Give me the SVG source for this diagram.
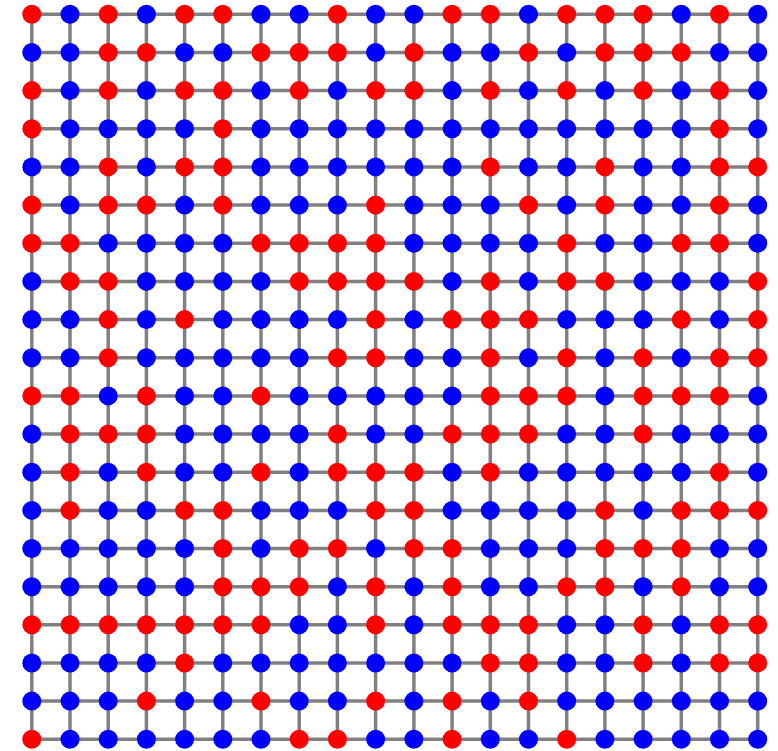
<svg xmlns="http://www.w3.org/2000/svg" width="778" height="751" viewBox="0 0 778 751">
<style>
.e line{stroke:#808080;stroke-width:3.5;fill:none}
circle{stroke:none}
.r{fill:#ff0000}
.b{fill:#0000ff}
</style>
<rect width="778" height="751" fill="#ffffff"/>
<g id="connectors" class="e">
<line x1="31.8" y1="14.3" x2="757.7" y2="14.3"/>
<line x1="31.8" y1="52.5" x2="757.7" y2="52.5"/>
<line x1="31.8" y1="90.6" x2="757.7" y2="90.6"/>
<line x1="31.8" y1="128.8" x2="757.7" y2="128.8"/>
<line x1="31.8" y1="166.9" x2="757.7" y2="166.9"/>
<line x1="31.8" y1="205.1" x2="757.7" y2="205.1"/>
<line x1="31.8" y1="243.2" x2="757.7" y2="243.2"/>
<line x1="31.8" y1="281.4" x2="757.7" y2="281.4"/>
<line x1="31.8" y1="319.6" x2="757.7" y2="319.6"/>
<line x1="31.8" y1="357.7" x2="757.7" y2="357.7"/>
<line x1="31.8" y1="395.9" x2="757.7" y2="395.9"/>
<line x1="31.8" y1="434" x2="757.7" y2="434"/>
<line x1="31.8" y1="472.2" x2="757.7" y2="472.2"/>
<line x1="31.8" y1="510.4" x2="757.7" y2="510.4"/>
<line x1="31.8" y1="548.5" x2="757.7" y2="548.5"/>
<line x1="31.8" y1="586.7" x2="757.7" y2="586.7"/>
<line x1="31.8" y1="624.8" x2="757.7" y2="624.8"/>
<line x1="31.8" y1="663" x2="757.7" y2="663"/>
<line x1="31.8" y1="701.1" x2="757.7" y2="701.1"/>
<line x1="31.8" y1="739.3" x2="757.7" y2="739.3"/>
<line x1="31.8" y1="14.3" x2="31.8" y2="739.3"/>
<line x1="70" y1="14.3" x2="70" y2="739.3"/>
<line x1="108.2" y1="14.3" x2="108.2" y2="739.3"/>
<line x1="146.4" y1="14.3" x2="146.4" y2="739.3"/>
<line x1="184.6" y1="14.3" x2="184.6" y2="739.3"/>
<line x1="222.8" y1="14.3" x2="222.8" y2="739.3"/>
<line x1="261" y1="14.3" x2="261" y2="739.3"/>
<line x1="299.2" y1="14.3" x2="299.2" y2="739.3"/>
<line x1="337.4" y1="14.3" x2="337.4" y2="739.3"/>
<line x1="375.6" y1="14.3" x2="375.6" y2="739.3"/>
<line x1="413.9" y1="14.3" x2="413.9" y2="739.3"/>
<line x1="452.1" y1="14.3" x2="452.1" y2="739.3"/>
<line x1="490.3" y1="14.3" x2="490.3" y2="739.3"/>
<line x1="528.5" y1="14.3" x2="528.5" y2="739.3"/>
<line x1="566.7" y1="14.3" x2="566.7" y2="739.3"/>
<line x1="604.9" y1="14.3" x2="604.9" y2="739.3"/>
<line x1="643.1" y1="14.3" x2="643.1" y2="739.3"/>
<line x1="681.3" y1="14.3" x2="681.3" y2="739.3"/>
<line x1="719.5" y1="14.3" x2="719.5" y2="739.3"/>
<line x1="757.7" y1="14.3" x2="757.7" y2="739.3"/>
</g>
<g id="nodes">
<g id="n0_0"><circle class="r" cx="31.8" cy="14.3" r="9.5"/></g>
<g id="n0_1"><circle class="b" cx="70" cy="14.3" r="9.5"/></g>
<g id="n0_2"><circle class="r" cx="108.2" cy="14.3" r="9.5"/></g>
<g id="n0_3"><circle class="b" cx="146.4" cy="14.3" r="9.5"/></g>
<g id="n0_4"><circle class="r" cx="184.6" cy="14.3" r="9.5"/></g>
<g id="n0_5"><circle class="r" cx="222.8" cy="14.3" r="9.5"/></g>
<g id="n0_6"><circle class="b" cx="261" cy="14.3" r="9.5"/></g>
<g id="n0_7"><circle class="b" cx="299.2" cy="14.3" r="9.5"/></g>
<g id="n0_8"><circle class="r" cx="337.4" cy="14.3" r="9.5"/></g>
<g id="n0_9"><circle class="b" cx="375.6" cy="14.3" r="9.5"/></g>
<g id="n0_10"><circle class="b" cx="413.9" cy="14.3" r="9.5"/></g>
<g id="n0_11"><circle class="r" cx="452.1" cy="14.3" r="9.5"/></g>
<g id="n0_12"><circle class="r" cx="490.3" cy="14.3" r="9.5"/></g>
<g id="n0_13"><circle class="b" cx="528.5" cy="14.3" r="9.5"/></g>
<g id="n0_14"><circle class="r" cx="566.7" cy="14.3" r="9.5"/></g>
<g id="n0_15"><circle class="r" cx="604.9" cy="14.3" r="9.5"/></g>
<g id="n0_16"><circle class="r" cx="643.1" cy="14.3" r="9.5"/></g>
<g id="n0_17"><circle class="b" cx="681.3" cy="14.3" r="9.5"/></g>
<g id="n0_18"><circle class="r" cx="719.5" cy="14.3" r="9.5"/></g>
<g id="n0_19"><circle class="b" cx="757.7" cy="14.3" r="9.5"/></g>
<g id="n1_0"><circle class="b" cx="31.8" cy="52.5" r="9.5"/></g>
<g id="n1_1"><circle class="b" cx="70" cy="52.5" r="9.5"/></g>
<g id="n1_2"><circle class="r" cx="108.2" cy="52.5" r="9.5"/></g>
<g id="n1_3"><circle class="r" cx="146.4" cy="52.5" r="9.5"/></g>
<g id="n1_4"><circle class="b" cx="184.6" cy="52.5" r="9.5"/></g>
<g id="n1_5"><circle class="b" cx="222.8" cy="52.5" r="9.5"/></g>
<g id="n1_6"><circle class="r" cx="261" cy="52.5" r="9.5"/></g>
<g id="n1_7"><circle class="r" cx="299.2" cy="52.5" r="9.5"/></g>
<g id="n1_8"><circle class="r" cx="337.4" cy="52.5" r="9.5"/></g>
<g id="n1_9"><circle class="b" cx="375.6" cy="52.5" r="9.5"/></g>
<g id="n1_10"><circle class="r" cx="413.9" cy="52.5" r="9.5"/></g>
<g id="n1_11"><circle class="b" cx="452.1" cy="52.5" r="9.5"/></g>
<g id="n1_12"><circle class="b" cx="490.3" cy="52.5" r="9.5"/></g>
<g id="n1_13"><circle class="r" cx="528.5" cy="52.5" r="9.5"/></g>
<g id="n1_14"><circle class="b" cx="566.7" cy="52.5" r="9.5"/></g>
<g id="n1_15"><circle class="r" cx="604.9" cy="52.5" r="9.5"/></g>
<g id="n1_16"><circle class="r" cx="643.1" cy="52.5" r="9.5"/></g>
<g id="n1_17"><circle class="r" cx="681.3" cy="52.5" r="9.5"/></g>
<g id="n1_18"><circle class="b" cx="719.5" cy="52.5" r="9.5"/></g>
<g id="n1_19"><circle class="b" cx="757.7" cy="52.5" r="9.5"/></g>
<g id="n2_0"><circle class="r" cx="31.8" cy="90.6" r="9.5"/></g>
<g id="n2_1"><circle class="b" cx="70" cy="90.6" r="9.5"/></g>
<g id="n2_2"><circle class="r" cx="108.2" cy="90.6" r="9.5"/></g>
<g id="n2_3"><circle class="b" cx="146.4" cy="90.6" r="9.5"/></g>
<g id="n2_4"><circle class="r" cx="184.6" cy="90.6" r="9.5"/></g>
<g id="n2_5"><circle class="r" cx="222.8" cy="90.6" r="9.5"/></g>
<g id="n2_6"><circle class="b" cx="261" cy="90.6" r="9.5"/></g>
<g id="n2_7"><circle class="r" cx="299.2" cy="90.6" r="9.5"/></g>
<g id="n2_8"><circle class="b" cx="337.4" cy="90.6" r="9.5"/></g>
<g id="n2_9"><circle class="r" cx="375.6" cy="90.6" r="9.5"/></g>
<g id="n2_10"><circle class="r" cx="413.9" cy="90.6" r="9.5"/></g>
<g id="n2_11"><circle class="b" cx="452.1" cy="90.6" r="9.5"/></g>
<g id="n2_12"><circle class="r" cx="490.3" cy="90.6" r="9.5"/></g>
<g id="n2_13"><circle class="b" cx="528.5" cy="90.6" r="9.5"/></g>
<g id="n2_14"><circle class="r" cx="566.7" cy="90.6" r="9.5"/></g>
<g id="n2_15"><circle class="b" cx="604.9" cy="90.6" r="9.5"/></g>
<g id="n2_16"><circle class="r" cx="643.1" cy="90.6" r="9.5"/></g>
<g id="n2_17"><circle class="b" cx="681.3" cy="90.6" r="9.5"/></g>
<g id="n2_18"><circle class="r" cx="719.5" cy="90.6" r="9.5"/></g>
<g id="n2_19"><circle class="b" cx="757.7" cy="90.6" r="9.5"/></g>
<g id="n3_0"><circle class="r" cx="31.8" cy="128.8" r="9.5"/></g>
<g id="n3_1"><circle class="b" cx="70" cy="128.8" r="9.5"/></g>
<g id="n3_2"><circle class="b" cx="108.2" cy="128.8" r="9.5"/></g>
<g id="n3_3"><circle class="b" cx="146.4" cy="128.8" r="9.5"/></g>
<g id="n3_4"><circle class="b" cx="184.6" cy="128.8" r="9.5"/></g>
<g id="n3_5"><circle class="r" cx="222.8" cy="128.8" r="9.5"/></g>
<g id="n3_6"><circle class="b" cx="261" cy="128.8" r="9.5"/></g>
<g id="n3_7"><circle class="b" cx="299.2" cy="128.8" r="9.5"/></g>
<g id="n3_8"><circle class="b" cx="337.4" cy="128.8" r="9.5"/></g>
<g id="n3_9"><circle class="b" cx="375.6" cy="128.8" r="9.5"/></g>
<g id="n3_10"><circle class="b" cx="413.9" cy="128.8" r="9.5"/></g>
<g id="n3_11"><circle class="b" cx="452.1" cy="128.8" r="9.5"/></g>
<g id="n3_12"><circle class="b" cx="490.3" cy="128.8" r="9.5"/></g>
<g id="n3_13"><circle class="b" cx="528.5" cy="128.8" r="9.5"/></g>
<g id="n3_14"><circle class="b" cx="566.7" cy="128.8" r="9.5"/></g>
<g id="n3_15"><circle class="b" cx="604.9" cy="128.8" r="9.5"/></g>
<g id="n3_16"><circle class="b" cx="643.1" cy="128.8" r="9.5"/></g>
<g id="n3_17"><circle class="b" cx="681.3" cy="128.8" r="9.5"/></g>
<g id="n3_18"><circle class="r" cx="719.5" cy="128.8" r="9.5"/></g>
<g id="n3_19"><circle class="b" cx="757.7" cy="128.8" r="9.5"/></g>
<g id="n4_0"><circle class="b" cx="31.8" cy="166.9" r="9.5"/></g>
<g id="n4_1"><circle class="b" cx="70" cy="166.9" r="9.5"/></g>
<g id="n4_2"><circle class="r" cx="108.2" cy="166.9" r="9.5"/></g>
<g id="n4_3"><circle class="b" cx="146.4" cy="166.9" r="9.5"/></g>
<g id="n4_4"><circle class="r" cx="184.6" cy="166.9" r="9.5"/></g>
<g id="n4_5"><circle class="r" cx="222.8" cy="166.9" r="9.5"/></g>
<g id="n4_6"><circle class="b" cx="261" cy="166.9" r="9.5"/></g>
<g id="n4_7"><circle class="b" cx="299.2" cy="166.9" r="9.5"/></g>
<g id="n4_8"><circle class="b" cx="337.4" cy="166.9" r="9.5"/></g>
<g id="n4_9"><circle class="b" cx="375.6" cy="166.9" r="9.5"/></g>
<g id="n4_10"><circle class="b" cx="413.9" cy="166.9" r="9.5"/></g>
<g id="n4_11"><circle class="b" cx="452.1" cy="166.9" r="9.5"/></g>
<g id="n4_12"><circle class="r" cx="490.3" cy="166.9" r="9.5"/></g>
<g id="n4_13"><circle class="b" cx="528.5" cy="166.9" r="9.5"/></g>
<g id="n4_14"><circle class="b" cx="566.7" cy="166.9" r="9.5"/></g>
<g id="n4_15"><circle class="r" cx="604.9" cy="166.9" r="9.5"/></g>
<g id="n4_16"><circle class="b" cx="643.1" cy="166.9" r="9.5"/></g>
<g id="n4_17"><circle class="b" cx="681.3" cy="166.9" r="9.5"/></g>
<g id="n4_18"><circle class="r" cx="719.5" cy="166.9" r="9.5"/></g>
<g id="n4_19"><circle class="r" cx="757.7" cy="166.9" r="9.5"/></g>
<g id="n5_0"><circle class="r" cx="31.8" cy="205.1" r="9.5"/></g>
<g id="n5_1"><circle class="b" cx="70" cy="205.1" r="9.5"/></g>
<g id="n5_2"><circle class="r" cx="108.2" cy="205.1" r="9.5"/></g>
<g id="n5_3"><circle class="r" cx="146.4" cy="205.1" r="9.5"/></g>
<g id="n5_4"><circle class="b" cx="184.6" cy="205.1" r="9.5"/></g>
<g id="n5_5"><circle class="r" cx="222.8" cy="205.1" r="9.5"/></g>
<g id="n5_6"><circle class="b" cx="261" cy="205.1" r="9.5"/></g>
<g id="n5_7"><circle class="b" cx="299.2" cy="205.1" r="9.5"/></g>
<g id="n5_8"><circle class="b" cx="337.4" cy="205.1" r="9.5"/></g>
<g id="n5_9"><circle class="r" cx="375.6" cy="205.1" r="9.5"/></g>
<g id="n5_10"><circle class="b" cx="413.9" cy="205.1" r="9.5"/></g>
<g id="n5_11"><circle class="b" cx="452.1" cy="205.1" r="9.5"/></g>
<g id="n5_12"><circle class="b" cx="490.3" cy="205.1" r="9.5"/></g>
<g id="n5_13"><circle class="r" cx="528.5" cy="205.1" r="9.5"/></g>
<g id="n5_14"><circle class="b" cx="566.7" cy="205.1" r="9.5"/></g>
<g id="n5_15"><circle class="r" cx="604.9" cy="205.1" r="9.5"/></g>
<g id="n5_16"><circle class="b" cx="643.1" cy="205.1" r="9.5"/></g>
<g id="n5_17"><circle class="b" cx="681.3" cy="205.1" r="9.5"/></g>
<g id="n5_18"><circle class="r" cx="719.5" cy="205.1" r="9.5"/></g>
<g id="n5_19"><circle class="b" cx="757.7" cy="205.1" r="9.5"/></g>
<g id="n6_0"><circle class="r" cx="31.8" cy="243.2" r="9.5"/></g>
<g id="n6_1"><circle class="r" cx="70" cy="243.2" r="9.5"/></g>
<g id="n6_2"><circle class="b" cx="108.2" cy="243.2" r="9.5"/></g>
<g id="n6_3"><circle class="b" cx="146.4" cy="243.2" r="9.5"/></g>
<g id="n6_4"><circle class="b" cx="184.6" cy="243.2" r="9.5"/></g>
<g id="n6_5"><circle class="b" cx="222.8" cy="243.2" r="9.5"/></g>
<g id="n6_6"><circle class="r" cx="261" cy="243.2" r="9.5"/></g>
<g id="n6_7"><circle class="r" cx="299.2" cy="243.2" r="9.5"/></g>
<g id="n6_8"><circle class="r" cx="337.4" cy="243.2" r="9.5"/></g>
<g id="n6_9"><circle class="r" cx="375.6" cy="243.2" r="9.5"/></g>
<g id="n6_10"><circle class="b" cx="413.9" cy="243.2" r="9.5"/></g>
<g id="n6_11"><circle class="b" cx="452.1" cy="243.2" r="9.5"/></g>
<g id="n6_12"><circle class="b" cx="490.3" cy="243.2" r="9.5"/></g>
<g id="n6_13"><circle class="b" cx="528.5" cy="243.2" r="9.5"/></g>
<g id="n6_14"><circle class="r" cx="566.7" cy="243.2" r="9.5"/></g>
<g id="n6_15"><circle class="b" cx="604.9" cy="243.2" r="9.5"/></g>
<g id="n6_16"><circle class="b" cx="643.1" cy="243.2" r="9.5"/></g>
<g id="n6_17"><circle class="r" cx="681.3" cy="243.2" r="9.5"/></g>
<g id="n6_18"><circle class="r" cx="719.5" cy="243.2" r="9.5"/></g>
<g id="n6_19"><circle class="b" cx="757.7" cy="243.2" r="9.5"/></g>
<g id="n7_0"><circle class="b" cx="31.8" cy="281.4" r="9.5"/></g>
<g id="n7_1"><circle class="r" cx="70" cy="281.4" r="9.5"/></g>
<g id="n7_2"><circle class="r" cx="108.2" cy="281.4" r="9.5"/></g>
<g id="n7_3"><circle class="b" cx="146.4" cy="281.4" r="9.5"/></g>
<g id="n7_4"><circle class="b" cx="184.6" cy="281.4" r="9.5"/></g>
<g id="n7_5"><circle class="b" cx="222.8" cy="281.4" r="9.5"/></g>
<g id="n7_6"><circle class="b" cx="261" cy="281.4" r="9.5"/></g>
<g id="n7_7"><circle class="r" cx="299.2" cy="281.4" r="9.5"/></g>
<g id="n7_8"><circle class="r" cx="337.4" cy="281.4" r="9.5"/></g>
<g id="n7_9"><circle class="r" cx="375.6" cy="281.4" r="9.5"/></g>
<g id="n7_10"><circle class="r" cx="413.9" cy="281.4" r="9.5"/></g>
<g id="n7_11"><circle class="b" cx="452.1" cy="281.4" r="9.5"/></g>
<g id="n7_12"><circle class="r" cx="490.3" cy="281.4" r="9.5"/></g>
<g id="n7_13"><circle class="b" cx="528.5" cy="281.4" r="9.5"/></g>
<g id="n7_14"><circle class="r" cx="566.7" cy="281.4" r="9.5"/></g>
<g id="n7_15"><circle class="r" cx="604.9" cy="281.4" r="9.5"/></g>
<g id="n7_16"><circle class="b" cx="643.1" cy="281.4" r="9.5"/></g>
<g id="n7_17"><circle class="b" cx="681.3" cy="281.4" r="9.5"/></g>
<g id="n7_18"><circle class="b" cx="719.5" cy="281.4" r="9.5"/></g>
<g id="n7_19"><circle class="r" cx="757.7" cy="281.4" r="9.5"/></g>
<g id="n8_0"><circle class="b" cx="31.8" cy="319.6" r="9.5"/></g>
<g id="n8_1"><circle class="b" cx="70" cy="319.6" r="9.5"/></g>
<g id="n8_2"><circle class="r" cx="108.2" cy="319.6" r="9.5"/></g>
<g id="n8_3"><circle class="b" cx="146.4" cy="319.6" r="9.5"/></g>
<g id="n8_4"><circle class="r" cx="184.6" cy="319.6" r="9.5"/></g>
<g id="n8_5"><circle class="b" cx="222.8" cy="319.6" r="9.5"/></g>
<g id="n8_6"><circle class="b" cx="261" cy="319.6" r="9.5"/></g>
<g id="n8_7"><circle class="b" cx="299.2" cy="319.6" r="9.5"/></g>
<g id="n8_8"><circle class="b" cx="337.4" cy="319.6" r="9.5"/></g>
<g id="n8_9"><circle class="r" cx="375.6" cy="319.6" r="9.5"/></g>
<g id="n8_10"><circle class="b" cx="413.9" cy="319.6" r="9.5"/></g>
<g id="n8_11"><circle class="r" cx="452.1" cy="319.6" r="9.5"/></g>
<g id="n8_12"><circle class="r" cx="490.3" cy="319.6" r="9.5"/></g>
<g id="n8_13"><circle class="r" cx="528.5" cy="319.6" r="9.5"/></g>
<g id="n8_14"><circle class="b" cx="566.7" cy="319.6" r="9.5"/></g>
<g id="n8_15"><circle class="b" cx="604.9" cy="319.6" r="9.5"/></g>
<g id="n8_16"><circle class="b" cx="643.1" cy="319.6" r="9.5"/></g>
<g id="n8_17"><circle class="r" cx="681.3" cy="319.6" r="9.5"/></g>
<g id="n8_18"><circle class="b" cx="719.5" cy="319.6" r="9.5"/></g>
<g id="n8_19"><circle class="r" cx="757.7" cy="319.6" r="9.5"/></g>
<g id="n9_0"><circle class="b" cx="31.8" cy="357.7" r="9.5"/></g>
<g id="n9_1"><circle class="b" cx="70" cy="357.7" r="9.5"/></g>
<g id="n9_2"><circle class="r" cx="108.2" cy="357.7" r="9.5"/></g>
<g id="n9_3"><circle class="b" cx="146.4" cy="357.7" r="9.5"/></g>
<g id="n9_4"><circle class="b" cx="184.6" cy="357.7" r="9.5"/></g>
<g id="n9_5"><circle class="b" cx="222.8" cy="357.7" r="9.5"/></g>
<g id="n9_6"><circle class="b" cx="261" cy="357.7" r="9.5"/></g>
<g id="n9_7"><circle class="b" cx="299.2" cy="357.7" r="9.5"/></g>
<g id="n9_8"><circle class="r" cx="337.4" cy="357.7" r="9.5"/></g>
<g id="n9_9"><circle class="r" cx="375.6" cy="357.7" r="9.5"/></g>
<g id="n9_10"><circle class="b" cx="413.9" cy="357.7" r="9.5"/></g>
<g id="n9_11"><circle class="b" cx="452.1" cy="357.7" r="9.5"/></g>
<g id="n9_12"><circle class="r" cx="490.3" cy="357.7" r="9.5"/></g>
<g id="n9_13"><circle class="b" cx="528.5" cy="357.7" r="9.5"/></g>
<g id="n9_14"><circle class="r" cx="566.7" cy="357.7" r="9.5"/></g>
<g id="n9_15"><circle class="b" cx="604.9" cy="357.7" r="9.5"/></g>
<g id="n9_16"><circle class="r" cx="643.1" cy="357.7" r="9.5"/></g>
<g id="n9_17"><circle class="b" cx="681.3" cy="357.7" r="9.5"/></g>
<g id="n9_18"><circle class="r" cx="719.5" cy="357.7" r="9.5"/></g>
<g id="n9_19"><circle class="r" cx="757.7" cy="357.7" r="9.5"/></g>
<g id="n10_0"><circle class="r" cx="31.8" cy="395.9" r="9.5"/></g>
<g id="n10_1"><circle class="r" cx="70" cy="395.9" r="9.5"/></g>
<g id="n10_2"><circle class="b" cx="108.2" cy="395.9" r="9.5"/></g>
<g id="n10_3"><circle class="r" cx="146.4" cy="395.9" r="9.5"/></g>
<g id="n10_4"><circle class="b" cx="184.6" cy="395.9" r="9.5"/></g>
<g id="n10_5"><circle class="b" cx="222.8" cy="395.9" r="9.5"/></g>
<g id="n10_6"><circle class="r" cx="261" cy="395.9" r="9.5"/></g>
<g id="n10_7"><circle class="b" cx="299.2" cy="395.9" r="9.5"/></g>
<g id="n10_8"><circle class="b" cx="337.4" cy="395.9" r="9.5"/></g>
<g id="n10_9"><circle class="b" cx="375.6" cy="395.9" r="9.5"/></g>
<g id="n10_10"><circle class="b" cx="413.9" cy="395.9" r="9.5"/></g>
<g id="n10_11"><circle class="b" cx="452.1" cy="395.9" r="9.5"/></g>
<g id="n10_12"><circle class="r" cx="490.3" cy="395.9" r="9.5"/></g>
<g id="n10_13"><circle class="r" cx="528.5" cy="395.9" r="9.5"/></g>
<g id="n10_14"><circle class="r" cx="566.7" cy="395.9" r="9.5"/></g>
<g id="n10_15"><circle class="b" cx="604.9" cy="395.9" r="9.5"/></g>
<g id="n10_16"><circle class="r" cx="643.1" cy="395.9" r="9.5"/></g>
<g id="n10_17"><circle class="r" cx="681.3" cy="395.9" r="9.5"/></g>
<g id="n10_18"><circle class="r" cx="719.5" cy="395.9" r="9.5"/></g>
<g id="n10_19"><circle class="b" cx="757.7" cy="395.9" r="9.5"/></g>
<g id="n11_0"><circle class="b" cx="31.8" cy="434" r="9.5"/></g>
<g id="n11_1"><circle class="r" cx="70" cy="434" r="9.5"/></g>
<g id="n11_2"><circle class="r" cx="108.2" cy="434" r="9.5"/></g>
<g id="n11_3"><circle class="r" cx="146.4" cy="434" r="9.5"/></g>
<g id="n11_4"><circle class="b" cx="184.6" cy="434" r="9.5"/></g>
<g id="n11_5"><circle class="b" cx="222.8" cy="434" r="9.5"/></g>
<g id="n11_6"><circle class="b" cx="261" cy="434" r="9.5"/></g>
<g id="n11_7"><circle class="b" cx="299.2" cy="434" r="9.5"/></g>
<g id="n11_8"><circle class="r" cx="337.4" cy="434" r="9.5"/></g>
<g id="n11_9"><circle class="b" cx="375.6" cy="434" r="9.5"/></g>
<g id="n11_10"><circle class="b" cx="413.9" cy="434" r="9.5"/></g>
<g id="n11_11"><circle class="r" cx="452.1" cy="434" r="9.5"/></g>
<g id="n11_12"><circle class="r" cx="490.3" cy="434" r="9.5"/></g>
<g id="n11_13"><circle class="r" cx="528.5" cy="434" r="9.5"/></g>
<g id="n11_14"><circle class="b" cx="566.7" cy="434" r="9.5"/></g>
<g id="n11_15"><circle class="b" cx="604.9" cy="434" r="9.5"/></g>
<g id="n11_16"><circle class="r" cx="643.1" cy="434" r="9.5"/></g>
<g id="n11_17"><circle class="b" cx="681.3" cy="434" r="9.5"/></g>
<g id="n11_18"><circle class="b" cx="719.5" cy="434" r="9.5"/></g>
<g id="n11_19"><circle class="b" cx="757.7" cy="434" r="9.5"/></g>
<g id="n12_0"><circle class="b" cx="31.8" cy="472.2" r="9.5"/></g>
<g id="n12_1"><circle class="r" cx="70" cy="472.2" r="9.5"/></g>
<g id="n12_2"><circle class="b" cx="108.2" cy="472.2" r="9.5"/></g>
<g id="n12_3"><circle class="r" cx="146.4" cy="472.2" r="9.5"/></g>
<g id="n12_4"><circle class="b" cx="184.6" cy="472.2" r="9.5"/></g>
<g id="n12_5"><circle class="b" cx="222.8" cy="472.2" r="9.5"/></g>
<g id="n12_6"><circle class="r" cx="261" cy="472.2" r="9.5"/></g>
<g id="n12_7"><circle class="b" cx="299.2" cy="472.2" r="9.5"/></g>
<g id="n12_8"><circle class="r" cx="337.4" cy="472.2" r="9.5"/></g>
<g id="n12_9"><circle class="r" cx="375.6" cy="472.2" r="9.5"/></g>
<g id="n12_10"><circle class="r" cx="413.9" cy="472.2" r="9.5"/></g>
<g id="n12_11"><circle class="b" cx="452.1" cy="472.2" r="9.5"/></g>
<g id="n12_12"><circle class="r" cx="490.3" cy="472.2" r="9.5"/></g>
<g id="n12_13"><circle class="b" cx="528.5" cy="472.2" r="9.5"/></g>
<g id="n12_14"><circle class="b" cx="566.7" cy="472.2" r="9.5"/></g>
<g id="n12_15"><circle class="b" cx="604.9" cy="472.2" r="9.5"/></g>
<g id="n12_16"><circle class="b" cx="643.1" cy="472.2" r="9.5"/></g>
<g id="n12_17"><circle class="b" cx="681.3" cy="472.2" r="9.5"/></g>
<g id="n12_18"><circle class="r" cx="719.5" cy="472.2" r="9.5"/></g>
<g id="n12_19"><circle class="b" cx="757.7" cy="472.2" r="9.5"/></g>
<g id="n13_0"><circle class="b" cx="31.8" cy="510.4" r="9.5"/></g>
<g id="n13_1"><circle class="r" cx="70" cy="510.4" r="9.5"/></g>
<g id="n13_2"><circle class="b" cx="108.2" cy="510.4" r="9.5"/></g>
<g id="n13_3"><circle class="b" cx="146.4" cy="510.4" r="9.5"/></g>
<g id="n13_4"><circle class="r" cx="184.6" cy="510.4" r="9.5"/></g>
<g id="n13_5"><circle class="r" cx="222.8" cy="510.4" r="9.5"/></g>
<g id="n13_6"><circle class="b" cx="261" cy="510.4" r="9.5"/></g>
<g id="n13_7"><circle class="b" cx="299.2" cy="510.4" r="9.5"/></g>
<g id="n13_8"><circle class="b" cx="337.4" cy="510.4" r="9.5"/></g>
<g id="n13_9"><circle class="r" cx="375.6" cy="510.4" r="9.5"/></g>
<g id="n13_10"><circle class="r" cx="413.9" cy="510.4" r="9.5"/></g>
<g id="n13_11"><circle class="b" cx="452.1" cy="510.4" r="9.5"/></g>
<g id="n13_12"><circle class="b" cx="490.3" cy="510.4" r="9.5"/></g>
<g id="n13_13"><circle class="b" cx="528.5" cy="510.4" r="9.5"/></g>
<g id="n13_14"><circle class="b" cx="566.7" cy="510.4" r="9.5"/></g>
<g id="n13_15"><circle class="r" cx="604.9" cy="510.4" r="9.5"/></g>
<g id="n13_16"><circle class="b" cx="643.1" cy="510.4" r="9.5"/></g>
<g id="n13_17"><circle class="r" cx="681.3" cy="510.4" r="9.5"/></g>
<g id="n13_18"><circle class="r" cx="719.5" cy="510.4" r="9.5"/></g>
<g id="n13_19"><circle class="r" cx="757.7" cy="510.4" r="9.5"/></g>
<g id="n14_0"><circle class="b" cx="31.8" cy="548.5" r="9.5"/></g>
<g id="n14_1"><circle class="b" cx="70" cy="548.5" r="9.5"/></g>
<g id="n14_2"><circle class="b" cx="108.2" cy="548.5" r="9.5"/></g>
<g id="n14_3"><circle class="b" cx="146.4" cy="548.5" r="9.5"/></g>
<g id="n14_4"><circle class="b" cx="184.6" cy="548.5" r="9.5"/></g>
<g id="n14_5"><circle class="r" cx="222.8" cy="548.5" r="9.5"/></g>
<g id="n14_6"><circle class="b" cx="261" cy="548.5" r="9.5"/></g>
<g id="n14_7"><circle class="r" cx="299.2" cy="548.5" r="9.5"/></g>
<g id="n14_8"><circle class="r" cx="337.4" cy="548.5" r="9.5"/></g>
<g id="n14_9"><circle class="b" cx="375.6" cy="548.5" r="9.5"/></g>
<g id="n14_10"><circle class="r" cx="413.9" cy="548.5" r="9.5"/></g>
<g id="n14_11"><circle class="r" cx="452.1" cy="548.5" r="9.5"/></g>
<g id="n14_12"><circle class="b" cx="490.3" cy="548.5" r="9.5"/></g>
<g id="n14_13"><circle class="b" cx="528.5" cy="548.5" r="9.5"/></g>
<g id="n14_14"><circle class="b" cx="566.7" cy="548.5" r="9.5"/></g>
<g id="n14_15"><circle class="r" cx="604.9" cy="548.5" r="9.5"/></g>
<g id="n14_16"><circle class="r" cx="643.1" cy="548.5" r="9.5"/></g>
<g id="n14_17"><circle class="r" cx="681.3" cy="548.5" r="9.5"/></g>
<g id="n14_18"><circle class="b" cx="719.5" cy="548.5" r="9.5"/></g>
<g id="n14_19"><circle class="b" cx="757.7" cy="548.5" r="9.5"/></g>
<g id="n15_0"><circle class="b" cx="31.8" cy="586.7" r="9.5"/></g>
<g id="n15_1"><circle class="b" cx="70" cy="586.7" r="9.5"/></g>
<g id="n15_2"><circle class="b" cx="108.2" cy="586.7" r="9.5"/></g>
<g id="n15_3"><circle class="b" cx="146.4" cy="586.7" r="9.5"/></g>
<g id="n15_4"><circle class="b" cx="184.6" cy="586.7" r="9.5"/></g>
<g id="n15_5"><circle class="r" cx="222.8" cy="586.7" r="9.5"/></g>
<g id="n15_6"><circle class="r" cx="261" cy="586.7" r="9.5"/></g>
<g id="n15_7"><circle class="r" cx="299.2" cy="586.7" r="9.5"/></g>
<g id="n15_8"><circle class="b" cx="337.4" cy="586.7" r="9.5"/></g>
<g id="n15_9"><circle class="r" cx="375.6" cy="586.7" r="9.5"/></g>
<g id="n15_10"><circle class="b" cx="413.9" cy="586.7" r="9.5"/></g>
<g id="n15_11"><circle class="r" cx="452.1" cy="586.7" r="9.5"/></g>
<g id="n15_12"><circle class="b" cx="490.3" cy="586.7" r="9.5"/></g>
<g id="n15_13"><circle class="b" cx="528.5" cy="586.7" r="9.5"/></g>
<g id="n15_14"><circle class="r" cx="566.7" cy="586.7" r="9.5"/></g>
<g id="n15_15"><circle class="r" cx="604.9" cy="586.7" r="9.5"/></g>
<g id="n15_16"><circle class="b" cx="643.1" cy="586.7" r="9.5"/></g>
<g id="n15_17"><circle class="r" cx="681.3" cy="586.7" r="9.5"/></g>
<g id="n15_18"><circle class="b" cx="719.5" cy="586.7" r="9.5"/></g>
<g id="n15_19"><circle class="b" cx="757.7" cy="586.7" r="9.5"/></g>
<g id="n16_0"><circle class="r" cx="31.8" cy="624.8" r="9.5"/></g>
<g id="n16_1"><circle class="r" cx="70" cy="624.8" r="9.5"/></g>
<g id="n16_2"><circle class="r" cx="108.2" cy="624.8" r="9.5"/></g>
<g id="n16_3"><circle class="r" cx="146.4" cy="624.8" r="9.5"/></g>
<g id="n16_4"><circle class="r" cx="184.6" cy="624.8" r="9.5"/></g>
<g id="n16_5"><circle class="r" cx="222.8" cy="624.8" r="9.5"/></g>
<g id="n16_6"><circle class="r" cx="261" cy="624.8" r="9.5"/></g>
<g id="n16_7"><circle class="b" cx="299.2" cy="624.8" r="9.5"/></g>
<g id="n16_8"><circle class="b" cx="337.4" cy="624.8" r="9.5"/></g>
<g id="n16_9"><circle class="r" cx="375.6" cy="624.8" r="9.5"/></g>
<g id="n16_10"><circle class="b" cx="413.9" cy="624.8" r="9.5"/></g>
<g id="n16_11"><circle class="r" cx="452.1" cy="624.8" r="9.5"/></g>
<g id="n16_12"><circle class="r" cx="490.3" cy="624.8" r="9.5"/></g>
<g id="n16_13"><circle class="r" cx="528.5" cy="624.8" r="9.5"/></g>
<g id="n16_14"><circle class="b" cx="566.7" cy="624.8" r="9.5"/></g>
<g id="n16_15"><circle class="b" cx="604.9" cy="624.8" r="9.5"/></g>
<g id="n16_16"><circle class="r" cx="643.1" cy="624.8" r="9.5"/></g>
<g id="n16_17"><circle class="b" cx="681.3" cy="624.8" r="9.5"/></g>
<g id="n16_18"><circle class="r" cx="719.5" cy="624.8" r="9.5"/></g>
<g id="n16_19"><circle class="r" cx="757.7" cy="624.8" r="9.5"/></g>
<g id="n17_0"><circle class="b" cx="31.8" cy="663" r="9.5"/></g>
<g id="n17_1"><circle class="b" cx="70" cy="663" r="9.5"/></g>
<g id="n17_2"><circle class="b" cx="108.2" cy="663" r="9.5"/></g>
<g id="n17_3"><circle class="b" cx="146.4" cy="663" r="9.5"/></g>
<g id="n17_4"><circle class="r" cx="184.6" cy="663" r="9.5"/></g>
<g id="n17_5"><circle class="b" cx="222.8" cy="663" r="9.5"/></g>
<g id="n17_6"><circle class="b" cx="261" cy="663" r="9.5"/></g>
<g id="n17_7"><circle class="b" cx="299.2" cy="663" r="9.5"/></g>
<g id="n17_8"><circle class="b" cx="337.4" cy="663" r="9.5"/></g>
<g id="n17_9"><circle class="b" cx="375.6" cy="663" r="9.5"/></g>
<g id="n17_10"><circle class="b" cx="413.9" cy="663" r="9.5"/></g>
<g id="n17_11"><circle class="b" cx="452.1" cy="663" r="9.5"/></g>
<g id="n17_12"><circle class="r" cx="490.3" cy="663" r="9.5"/></g>
<g id="n17_13"><circle class="r" cx="528.5" cy="663" r="9.5"/></g>
<g id="n17_14"><circle class="b" cx="566.7" cy="663" r="9.5"/></g>
<g id="n17_15"><circle class="b" cx="604.9" cy="663" r="9.5"/></g>
<g id="n17_16"><circle class="r" cx="643.1" cy="663" r="9.5"/></g>
<g id="n17_17"><circle class="b" cx="681.3" cy="663" r="9.5"/></g>
<g id="n17_18"><circle class="r" cx="719.5" cy="663" r="9.5"/></g>
<g id="n17_19"><circle class="r" cx="757.7" cy="663" r="9.5"/></g>
<g id="n18_0"><circle class="b" cx="31.8" cy="701.1" r="9.5"/></g>
<g id="n18_1"><circle class="b" cx="70" cy="701.1" r="9.5"/></g>
<g id="n18_2"><circle class="b" cx="108.2" cy="701.1" r="9.5"/></g>
<g id="n18_3"><circle class="r" cx="146.4" cy="701.1" r="9.5"/></g>
<g id="n18_4"><circle class="b" cx="184.6" cy="701.1" r="9.5"/></g>
<g id="n18_5"><circle class="b" cx="222.8" cy="701.1" r="9.5"/></g>
<g id="n18_6"><circle class="r" cx="261" cy="701.1" r="9.5"/></g>
<g id="n18_7"><circle class="b" cx="299.2" cy="701.1" r="9.5"/></g>
<g id="n18_8"><circle class="b" cx="337.4" cy="701.1" r="9.5"/></g>
<g id="n18_9"><circle class="r" cx="375.6" cy="701.1" r="9.5"/></g>
<g id="n18_10"><circle class="b" cx="413.9" cy="701.1" r="9.5"/></g>
<g id="n18_11"><circle class="r" cx="452.1" cy="701.1" r="9.5"/></g>
<g id="n18_12"><circle class="b" cx="490.3" cy="701.1" r="9.5"/></g>
<g id="n18_13"><circle class="r" cx="528.5" cy="701.1" r="9.5"/></g>
<g id="n18_14"><circle class="b" cx="566.7" cy="701.1" r="9.5"/></g>
<g id="n18_15"><circle class="b" cx="604.9" cy="701.1" r="9.5"/></g>
<g id="n18_16"><circle class="b" cx="643.1" cy="701.1" r="9.5"/></g>
<g id="n18_17"><circle class="b" cx="681.3" cy="701.1" r="9.5"/></g>
<g id="n18_18"><circle class="b" cx="719.5" cy="701.1" r="9.5"/></g>
<g id="n18_19"><circle class="b" cx="757.7" cy="701.1" r="9.5"/></g>
<g id="n19_0"><circle class="r" cx="31.8" cy="739.3" r="9.5"/></g>
<g id="n19_1"><circle class="b" cx="70" cy="739.3" r="9.5"/></g>
<g id="n19_2"><circle class="b" cx="108.2" cy="739.3" r="9.5"/></g>
<g id="n19_3"><circle class="b" cx="146.4" cy="739.3" r="9.5"/></g>
<g id="n19_4"><circle class="b" cx="184.6" cy="739.3" r="9.5"/></g>
<g id="n19_5"><circle class="b" cx="222.8" cy="739.3" r="9.5"/></g>
<g id="n19_6"><circle class="b" cx="261" cy="739.3" r="9.5"/></g>
<g id="n19_7"><circle class="r" cx="299.2" cy="739.3" r="9.5"/></g>
<g id="n19_8"><circle class="r" cx="337.4" cy="739.3" r="9.5"/></g>
<g id="n19_9"><circle class="b" cx="375.6" cy="739.3" r="9.5"/></g>
<g id="n19_10"><circle class="b" cx="413.9" cy="739.3" r="9.5"/></g>
<g id="n19_11"><circle class="r" cx="452.1" cy="739.3" r="9.5"/></g>
<g id="n19_12"><circle class="b" cx="490.3" cy="739.3" r="9.5"/></g>
<g id="n19_13"><circle class="b" cx="528.5" cy="739.3" r="9.5"/></g>
<g id="n19_14"><circle class="r" cx="566.7" cy="739.3" r="9.5"/></g>
<g id="n19_15"><circle class="b" cx="604.9" cy="739.3" r="9.5"/></g>
<g id="n19_16"><circle class="b" cx="643.1" cy="739.3" r="9.5"/></g>
<g id="n19_17"><circle class="b" cx="681.3" cy="739.3" r="9.5"/></g>
<g id="n19_18"><circle class="b" cx="719.5" cy="739.3" r="9.5"/></g>
<g id="n19_19"><circle class="b" cx="757.7" cy="739.3" r="9.5"/></g>
</g>
</svg>
